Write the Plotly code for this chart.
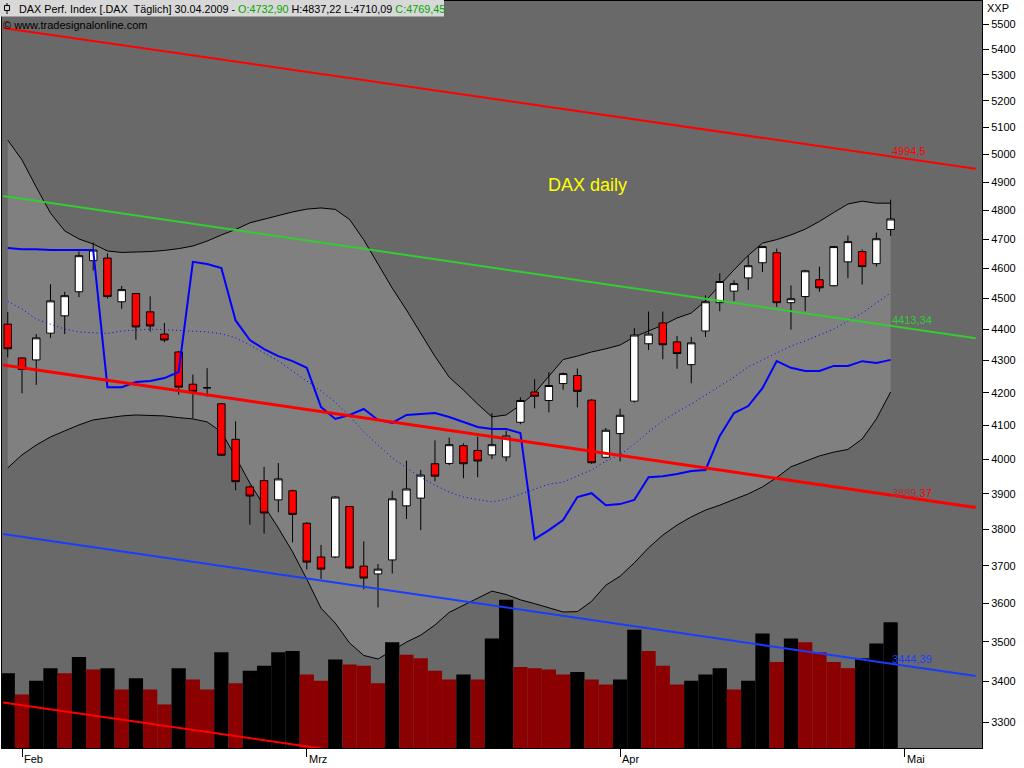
import math
import plotly.graph_objects as go

# ---------------- data ----------------
opens = [4416, 4308, 4302, 4387, 4443, 4522, 4626, 4635, 4489, 4516,
         4456, 4384, 4327, 4226, 4215, 4166, 4059, 3920, 3938, 3883,
         3909, 3817, 3724, 3724, 3864, 3699, 3678, 3716, 3866, 3888,
         3987, 3988, 4040, 4026, 4013, 4007, 4110, 4202, 4176, 4228,
         4253, 4177, 4006, 4076, 4174, 4353, 4420, 4359, 4287, 4394,
         4486, 4524, 4568, 4619, 4653, 4486, 4506, 4562, 4542, 4622,
         4657, 4616, 4732.90]
highs = [4455, 4310, 4384, 4547, 4522, 4657, 4688, 4651, 4541, 4518,
         4507, 4420, 4330, 4256, 4276, 4168, 4113, 3924, 3978, 3989,
         3912, 3820, 3757, 3893, 3866, 3767, 3705, 3909, 3996, 3969,
         4056, 4064, 4047, 4067, 4138, 4085, 4186, 4242, 4264, 4262,
         4275, 4180, 4093, 4151, 4403, 4457, 4457, 4378, 4375, 4510,
         4584, 4560, 4644, 4676, 4667, 4543, 4595, 4606, 4676, 4712,
         4664, 4722, 4837.22]
lows = [4310, 4198, 4224, 4372, 4384, 4504, 4593, 4500, 4466, 4366,
        4392, 4358, 4194, 4122, 4188, 4010, 3910, 3813, 3788, 3848,
        3764, 3690, 3665, 3721, 3692, 3637, 3589, 3679, 3829, 3798,
        3936, 3983, 3945, 3948, 4001, 3994, 4104, 4152, 4140, 4209,
        4155, 3987, 4003, 3994, 4170, 4333, 4304, 4274, 4229, 4375,
        4458, 4491, 4528, 4588, 4472, 4398, 4458, 4522, 4540, 4567,
        4546, 4606, 4710.09]
closes = [4337, 4272, 4372, 4492, 4509, 4643, 4662, 4506, 4529, 4407,
          4410, 4365, 4217, 4204, 4215, 4012, 3935, 3894, 3846, 3943,
          3842, 3710, 3691, 3891, 3694, 3667, 3691, 3886, 3914, 3954,
          3951, 4043, 3987, 3995, 4043, 4069, 4176, 4189, 4222, 4259,
          4204, 3990, 4086, 4131, 4381, 4384, 4350, 4322, 4356, 4489,
          4556, 4549, 4609, 4674, 4486, 4499, 4592, 4535, 4674, 4691,
          4606, 4701, 4769.45]

# volume (million shares, estimated)
volume = [60, 43, 54, 64, 60, 73, 63, 64, 47, 56,
          47, 35, 64, 55, 47, 77, 52, 62, 66, 77,
          78, 59, 54, 71, 67, 66, 52, 85, 75, 72,
          62, 55, 59, 55, 88, 119, 65, 64, 63, 59,
          61, 55, 51, 55, 95, 78, 66, 51, 54, 59,
          64, 47, 54, 92, 69, 88, 85, 77, 69, 64,
          72, 84, 101]

bb_upper = [5053, 4980, 4882, 4790, 4728, 4700, 4683, 4659, 4654, 4655,
            4657, 4661, 4667, 4676, 4693, 4714, 4733, 4756, 4769, 4781,
            4794, 4804, 4808, 4803, 4768, 4697, 4615, 4534, 4462, 4387,
            4313, 4248, 4208, 4165, 4126, 4132, 4162, 4199, 4250, 4303,
            4314, 4327, 4337, 4349, 4375, 4394, 4413, 4436, 4452, 4492,
            4544, 4595, 4644, 4686, 4698, 4714, 4734, 4761, 4792, 4822,
            4832, 4825, 4825]
bb_lower = [3975, 4013, 4042, 4066, 4084, 4102, 4117, 4124, 4129, 4132,
            4130, 4129, 4124, 4120, 4111, 4081, 4007, 3931, 3866, 3804,
            3738, 3664, 3587, 3548, 3497, 3465, 3456, 3478, 3499, 3517,
            3543, 3576, 3594, 3612, 3632, 3623, 3609, 3599, 3588, 3577,
            3578, 3605, 3648, 3672, 3708, 3749, 3784, 3812, 3835, 3854,
            3868, 3883, 3900, 3920, 3947, 3978, 3995, 4010, 4021, 4029,
            4060, 4120, 4202]
bb_mid = [4491, 4465, 4432, 4417, 4400, 4391, 4388, 4386, 4394, 4398,
          4400, 4398, 4395, 4394, 4391, 4385, 4372, 4349, 4324, 4299,
          4267, 4236, 4205, 4171, 4129, 4081, 4042, 4004, 3975, 3948,
          3925, 3905, 3891, 3883, 3877, 3885, 3900, 3914, 3928, 3934,
          3951, 3969, 3995, 4013, 4045, 4081, 4114, 4141, 4165, 4193,
          4221, 4248, 4280, 4302, 4324, 4346, 4362, 4381, 4400, 4426,
          4452, 4485, 4518]
blue_line = [4669, 4665, 4665, 4662, 4662, 4662, 4662, 4217, 4217, 4233,
             4236, 4245, 4264, 4622, 4615, 4601, 4428, 4365, 4336, 4314,
             4298, 4277, 4156, 4120, 4132, 4150, 4117, 4108, 4132, 4135,
             4138, 4126, 4111, 4096, 4090, 4090, 4078, 3773, 3798, 3826,
             3891, 3902, 3868, 3871, 3883, 3948, 3951, 3957, 3966, 3969,
             4069, 4138, 4159, 4214, 4298, 4277, 4267, 4267, 4283, 4283,
             4298, 4292, 4302]

month_labels = ["Feb", "Mrz", "Apr", "Mai"]
month_pos = [1, 21, 43, 63]
y_ticks = list(range(3300, 5600, 100))

# channel trend lines: (start value, end value)
channel_x = [-0.334, 67.97]
channel_red_top = [5485.5, 4948.0]
channel_green = [4850.3, 4370.5]
channel_red_mid = [4285.9, 3861.3]
channel_blue = [3787.0, 3413.0]
channel_red_low = [3347.7, 3020.0]

label_x = 61.95
label_values = [4994.5, 4413.34, 3889.37, 3444.39]

# ---------------- figure ----------------
FONT = "Liberation Sans, Arial, sans-serif"
n = len(closes)
idx = list(range(n))
X_RANGE = [-0.4045, 68.416]
Y_RANGE = [math.log10(3238.0), math.log10(5594.6)]
VOL_RANGE = [0, 600]

vol_colors = ["#000000" if (i == 0 or v > volume[i - 1]) else "#8b0000"
              for i, v in enumerate(volume)]

fig = go.Figure()

# layer 1: Bollinger band fill
fig.add_trace(go.Scatter(x=idx, y=bb_upper, mode="lines",
                         line=dict(color="black", width=1),
                         xaxis="x", yaxis="y", hoverinfo="skip"))
fig.add_trace(go.Scatter(x=idx, y=bb_lower, mode="lines",
                         line=dict(color="black", width=1),
                         fill="tonexty", fillcolor="#808080",
                         xaxis="x", yaxis="y", hoverinfo="skip"))

# layer 2: volume
fig.add_trace(go.Bar(x=idx, y=volume, width=1.0,
                     marker=dict(color=vol_colors, line=dict(width=0)),
                     xaxis="x", yaxis="y2"))

# layer 3: price
fig.add_trace(go.Candlestick(
    x=idx, open=opens, high=highs, low=lows, close=closes,
    xaxis="x", yaxis="y3", whiskerwidth=0,
    increasing=dict(fillcolor="white", line=dict(color="black", width=1)),
    decreasing=dict(fillcolor="#ff0000", line=dict(color="black", width=1)),
))
fig.add_trace(go.Scatter(x=idx, y=bb_mid, mode="lines",
                         line=dict(color="#0000ff", width=1, dash="1px,3px"),
                         xaxis="x", yaxis="y3"))
fig.add_trace(go.Scatter(x=idx, y=blue_line, mode="lines",
                         line=dict(color="#0000ff", width=2),
                         xaxis="x", yaxis="y3"))

for vals, col, w in [(channel_red_top, "#ff0000", 2),
                     (channel_green, "#33cc33", 2),
                     (channel_red_mid, "#ff0000", 3),
                     (channel_blue, "#1a3cff", 2),
                     (channel_red_low, "#ff0000", 2)]:
    fig.add_trace(go.Scatter(x=channel_x, y=vals, mode="lines",
                             line=dict(color=col, width=w),
                             xaxis="x", yaxis="y3"))

def px_x(p):
    return (p - 2) / 980.0

def px_y(p):
    return (748 - p) / 747.0

fmt = lambda v: f"{v:.2f}".replace(".", ",")
title_text = (f"DAX Perf. Index [.DAX\u00a0\u00a0Täglich] 30.04.2009 - "
              f"<span style='color:#00a800'>O:{fmt(opens[-1])}</span> "
              f"H:{fmt(highs[-1])} L:{fmt(lows[-1])} "
              f"<span style='color:#00a800'>C:{fmt(closes[-1])}</span>")

annotations = [
    dict(xref="paper", yref="paper", x=px_x(17), y=px_y(8.5), xanchor="left",
         yanchor="middle", text=title_text, showarrow=False,
         font=dict(family=FONT, size=10.8, color="black")),
    dict(xref="paper", yref="paper", x=px_x(1), y=px_y(25), xanchor="left",
         yanchor="middle", text="© www.tradesignalonline.com", showarrow=False,
         font=dict(family=FONT, size=11, color="black")),
    dict(xref="paper", yref="paper", x=px_x(985), y=px_y(8), xanchor="left",
         yanchor="middle", text="XXP", showarrow=False,
         font=dict(family=FONT, size=11, color="black")),
    dict(xref="x", yref="y3", x=40.71, y=math.log10(4889.6), xanchor="center",
         yanchor="middle", text="DAX daily", showarrow=False,
         font=dict(family=FONT, size=18, color="#ffff00")),
]
label_texts = ["4994,5", "4413,34",
               "<span style='color:#b03030'>3889,</span>37", "3444,39"]
label_colors = ["#ff0000", "#33cc33", "#ff0000", "#1a3cff"]
for t, v, c in zip(label_texts, label_values, label_colors):
    annotations.append(dict(xref="x", yref="y3", x=label_x, y=math.log10(v),
                            xanchor="left", yanchor="bottom", yshift=-3,
                            text=t, showarrow=False,
                            font=dict(family=FONT, size=11, color=c)))
for lab, pos in zip(month_labels, month_pos):
    annotations.append(dict(xref="x", yref="paper", x=pos, y=0,
                            xanchor="left", yanchor="top", yshift=-3,
                            text=lab, showarrow=False,
                            font=dict(family=FONT, size=11, color="black")))

shapes = [
    dict(type="rect", xref="paper", yref="paper", x0=px_x(0), x1=px_x(444),
         y0=px_y(16.5), y1=px_y(0), fillcolor="#d8d8d8",
         line=dict(width=0), layer="above"),
    dict(type="line", xref="paper", yref="paper", x0=px_x(7), x1=px_x(7),
         y0=px_y(3), y1=px_y(14), line=dict(color="black", width=1),
         layer="above"),
    dict(type="rect", xref="paper", yref="paper", x0=px_x(4.5), x1=px_x(9.5),
         y0=px_y(10.5), y1=px_y(5.5), fillcolor="#d8d8d8",
         line=dict(color="black", width=1), layer="above"),
]

fig.update_layout(
    width=1024, height=768,
    margin=dict(l=2, r=42, t=1, b=20),
    paper_bgcolor="white", plot_bgcolor="#696969",
    showlegend=False,
    boxgap=0.25,
    xaxis=dict(range=X_RANGE, showgrid=False, zeroline=False,
               showline=True, mirror=True, linecolor="black", linewidth=1,
               ticks="outside", ticklen=8, tickcolor="black", tickwidth=1,
               tickmode="array", tickvals=month_pos, showticklabels=False,
               rangeslider=dict(visible=False)),
    yaxis=dict(type="log", range=Y_RANGE, visible=False, showgrid=False,
               zeroline=False),
    yaxis2=dict(range=VOL_RANGE, overlaying="y", visible=False,
                showgrid=False, zeroline=False),
    yaxis3=dict(type="log", range=Y_RANGE, overlaying="y", side="right",
                showgrid=False, zeroline=False,
                showline=True, mirror=True, linecolor="black", linewidth=1,
                ticks="outside", ticklen=6, tickcolor="black", tickwidth=1,
                tickmode="array", tickvals=y_ticks,
                ticktext=[str(v) for v in y_ticks],
                tickfont=dict(family=FONT, size=11, color="black")),
    annotations=annotations,
    shapes=shapes,
)

fig.write_html(
    "out.html",
    config={"displayModeBar": False},
    post_script="document.body.style.margin='0';document.body.style.overflow='hidden';",
)
